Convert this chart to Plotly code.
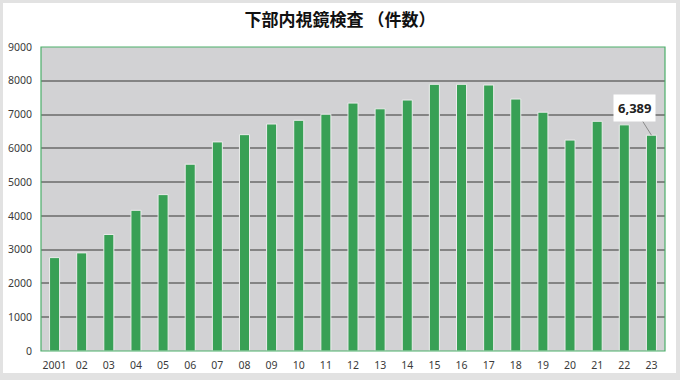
import plotly.graph_objects as go

# Data
years = ["2001", "02", "03", "04", "05", "06", "07", "08", "09", "10", "11", "12",
         "13", "14", "15", "16", "17", "18", "19", "20", "21", "22", "23"]
counts = [2765, 2905, 3450, 4165, 4630, 5530, 6190, 6405, 6720, 6830, 7010, 7340,
          7170, 7430, 7895, 7895, 7875, 7460, 7070, 6245, 6800, 6695, 6389]
y_ticks = [0, 1000, 2000, 3000, 4000, 5000, 6000, 7000, 8000, 9000]
title_text = "下部内視鏡検査 （件数）"

W, H = 680, 380
ML, MR, MT, MB = 41, 15, 47, 29
PW, PH = W - ML - MR, H - MT - MB


def px_x(p):
    return (p - ML) / PW


def px_y(p):
    return (H - MB - p) / PH


fig = go.Figure()
fig.add_trace(go.Bar(
    x=years, y=counts,
    marker=dict(color="#38a055", line=dict(color="#ececec", width=1)),
    width=0.37,
    hoverinfo="x+y",
))

label_font = dict(family="Noto Sans, Liberation Sans, sans-serif", size=10.5, color="#3a3a3a")
border_gray = "#e2e2e2"

fig.update_layout(
    width=W, height=H,
    margin=dict(l=ML, r=MR, t=MT, b=MB),
    paper_bgcolor="white",
    plot_bgcolor="#d2d2d4",
    showlegend=False,
    title=dict(text="<b>" + title_text + "</b>", x=0.5, xanchor="center", y=1 - 20 / H, yanchor="middle",
               font=dict(family="Noto Sans CJK JP", size=17, color="#111111")),
    xaxis=dict(type="category", showgrid=False, tickfont=label_font, ticks="",
               showline=False, zeroline=False, fixedrange=True, ticklabelstandoff=6,
               automargin=False),
    yaxis=dict(range=[0, 9000], tickvals=y_ticks, tickformat="d", tickfont=label_font,
               showgrid=True, gridcolor="#848484", gridwidth=1.6, zeroline=False,
               showline=False, ticks="", ticklabelstandoff=8, fixedrange=True,
               automargin=False),
    shapes=[
        # outer light-gray frame
        dict(type="rect", xref="paper", yref="paper", x0=px_x(0), x1=px_x(3), y0=px_y(H), y1=px_y(0),
             fillcolor=border_gray, line=dict(width=0), layer="above"),
        dict(type="rect", xref="paper", yref="paper", x0=px_x(676), x1=px_x(W), y0=px_y(H), y1=px_y(0),
             fillcolor=border_gray, line=dict(width=0), layer="above"),
        dict(type="rect", xref="paper", yref="paper", x0=px_x(0), x1=px_x(W), y0=px_y(3), y1=px_y(0),
             fillcolor=border_gray, line=dict(width=0), layer="above"),
        dict(type="rect", xref="paper", yref="paper", x0=px_x(0), x1=px_x(W), y0=px_y(H), y1=px_y(373),
             fillcolor=border_gray, line=dict(width=0), layer="above"),
        # green plot-area border
        dict(type="rect", xref="paper", yref="paper", x0=0, x1=1, y0=0, y1=1,
             fillcolor="rgba(0,0,0,0)", line=dict(color="#4caf6a", width=1.2), layer="above"),
    ],
    annotations=[
        dict(x=len(counts) - 1, y=counts[-1], text="<b>" + f"{counts[-1]:,}" + "</b>",
             showarrow=True, arrowhead=0, arrowwidth=1, arrowcolor="#8a8a8a",
             ax=-17, ay=-27, bgcolor="white", borderpad=4,
             font=dict(family="Noto Sans, Liberation Sans, sans-serif", size=13, color="#222222")),
    ],
)

fig.write_html("out.html", config={"displayModeBar": False},
               post_script="document.body.style.margin='0';")
